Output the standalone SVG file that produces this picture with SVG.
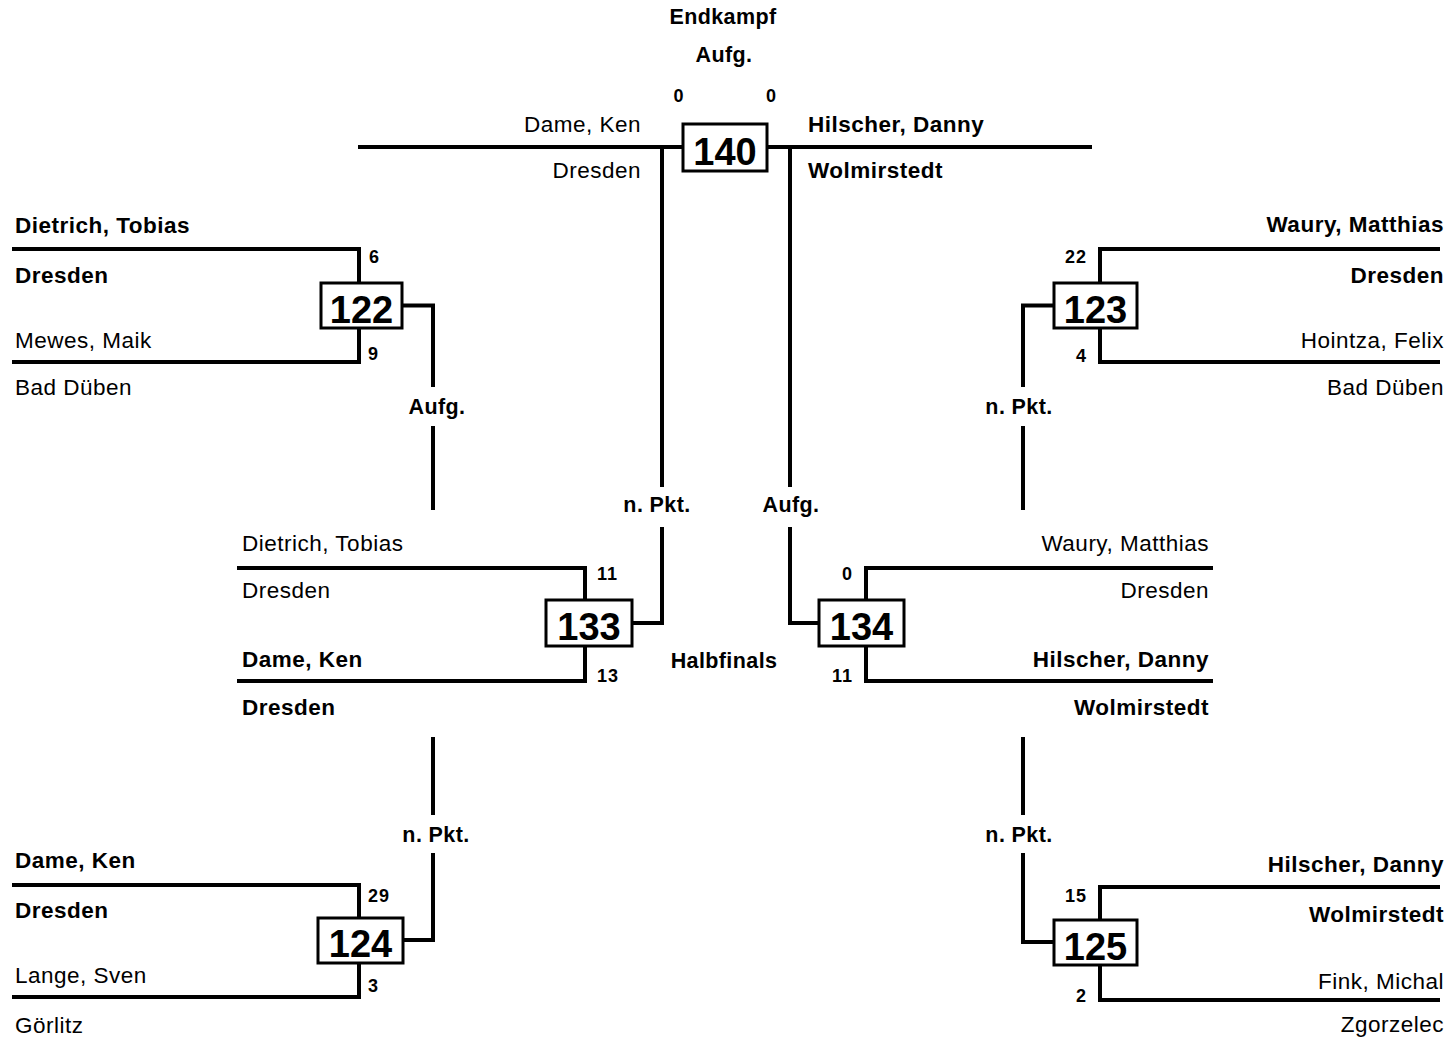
<svg xmlns="http://www.w3.org/2000/svg" width="1451" height="1044" viewBox="0 0 1451 1044">
<style>
.ln{fill:none;stroke:#000;stroke-width:4;stroke-linejoin:miter;stroke-linecap:butt}
.bx{fill:#fff;stroke:#000;stroke-width:3}
text{font-family:"Liberation Sans",Arial,sans-serif;fill:#000}
.num{font-size:38px;font-weight:bold;text-anchor:middle}
.nm{font-size:22.5px;letter-spacing:0.5px}
.b{font-weight:bold}
.e{text-anchor:end}
.sc{font-size:18px;font-weight:bold;letter-spacing:1px}
.lb{font-size:21.5px;font-weight:bold;letter-spacing:0.4px;text-anchor:middle}
</style>
<rect width="1451" height="1044" fill="#fff"/>
<g id="connectors">
<path class="ln" d="M402,305.5 H433 V387 M433,426 V510"/>
<path class="ln" d="M433,737 V815 M433,853 V940 H403"/>
<path class="ln" d="M1054,305.5 H1023 V387 M1023,426 V510"/>
<path class="ln" d="M1023,737 V815 M1023,853 V942 H1054"/>
<path class="ln" d="M632,623 H662 V527 M662,487 V147"/>
<path class="ln" d="M819,623 H790 V527 M790,487 V147"/>
<text class="lb" x="437" y="414">Aufg.</text>
<text class="lb" x="436" y="842">n. Pkt.</text>
<text class="lb" x="1019" y="414">n. Pkt.</text>
<text class="lb" x="1019" y="842">n. Pkt.</text>
<text class="lb" x="657" y="512">n. Pkt.</text>
<text class="lb" x="791" y="512">Aufg.</text>
</g>
<text class="lb" x="723" y="24">Endkampf</text>
<text class="lb" x="724" y="668">Halbfinals</text>
<g id="m140">
<path class="ln" d="M358,147 H1092"/>
<rect class="bx" x="683" y="124" width="84" height="47"/>
<text class="num" x="725" y="165">140</text>
<text class="lb" x="724" y="62">Aufg.</text>
<text class="sc" x="679" y="102" text-anchor="middle">0</text>
<text class="sc" x="771.5" y="102" text-anchor="middle">0</text>
<text class="nm e" x="641" y="132">Dame, Ken</text>
<text class="nm e" x="641" y="178">Dresden</text>
<text class="nm b" x="808" y="132">Hilscher, Danny</text>
<text class="nm b" x="808" y="178">Wolmirstedt</text>
</g>
<g id="m122">
<path class="ln" d="M12,249 H359 V283 M12,362 H359 V328"/>
<rect class="bx" x="321" y="283" width="81" height="45"/>
<text class="num" x="361.5" y="322.5">122</text>
<text class="nm b" x="15" y="233">Dietrich, Tobias</text>
<text class="nm b" x="15" y="283">Dresden</text>
<text class="nm" x="15" y="348">Mewes, Maik</text>
<text class="nm" x="15" y="395">Bad Düben</text>
<text class="sc" x="369" y="263">6</text>
<text class="sc" x="368" y="360">9</text>
</g>
<g id="m123">
<path class="ln" d="M1440,249 H1100 V283 M1440,362 H1100 V328"/>
<rect class="bx" x="1054" y="283" width="83" height="45"/>
<text class="num" x="1095.5" y="322.5">123</text>
<text class="nm b e" x="1444" y="232">Waury, Matthias</text>
<text class="nm b e" x="1444" y="283">Dresden</text>
<text class="nm e" x="1444" y="348">Hointza, Felix</text>
<text class="nm e" x="1444" y="395">Bad Düben</text>
<text class="sc e" x="1087" y="263">22</text>
<text class="sc e" x="1087" y="362">4</text>
</g>
<g id="m133">
<path class="ln" d="M237,568 H585 V600 M237,681 H585 V646"/>
<rect class="bx" x="546" y="600" width="86" height="46"/>
<text class="num" x="589" y="640">133</text>
<text class="nm" x="242" y="551">Dietrich, Tobias</text>
<text class="nm" x="242" y="598">Dresden</text>
<text class="nm b" x="242" y="667">Dame, Ken</text>
<text class="nm b" x="242" y="715">Dresden</text>
<text class="sc" x="597" y="580">11</text>
<text class="sc" x="597" y="682">13</text>
</g>
<g id="m134">
<path class="ln" d="M1213,568 H866 V600 M1213,681 H866 V646"/>
<rect class="bx" x="819" y="600" width="85" height="46"/>
<text class="num" x="861.5" y="640">134</text>
<text class="nm e" x="1209" y="551">Waury, Matthias</text>
<text class="nm e" x="1209" y="598">Dresden</text>
<text class="nm b e" x="1209" y="667">Hilscher, Danny</text>
<text class="nm b e" x="1209" y="715">Wolmirstedt</text>
<text class="sc e" x="853" y="580">0</text>
<text class="sc e" x="853" y="682">11</text>
</g>
<g id="m124">
<path class="ln" d="M12,885 H359 V918 M12,997 H359 V963"/>
<rect class="bx" x="318" y="918" width="85" height="45"/>
<text class="num" x="360.5" y="957">124</text>
<text class="nm b" x="15" y="868">Dame, Ken</text>
<text class="nm b" x="15" y="918">Dresden</text>
<text class="nm" x="15" y="983">Lange, Sven</text>
<text class="nm" x="15" y="1033">Görlitz</text>
<text class="sc" x="368" y="902">29</text>
<text class="sc" x="368" y="992">3</text>
</g>
<g id="m125">
<path class="ln" d="M1440,887 H1100 V920 M1440,1000 H1100 V965"/>
<rect class="bx" x="1054" y="920" width="83" height="45"/>
<text class="num" x="1095.5" y="959.5">125</text>
<text class="nm b e" x="1444" y="872">Hilscher, Danny</text>
<text class="nm b e" x="1444" y="922">Wolmirstedt</text>
<text class="nm e" x="1444" y="989">Fink, Michal</text>
<text class="nm e" x="1444" y="1032">Zgorzelec</text>
<text class="sc e" x="1087" y="902">15</text>
<text class="sc e" x="1087" y="1002">2</text>
</g>
</svg>
